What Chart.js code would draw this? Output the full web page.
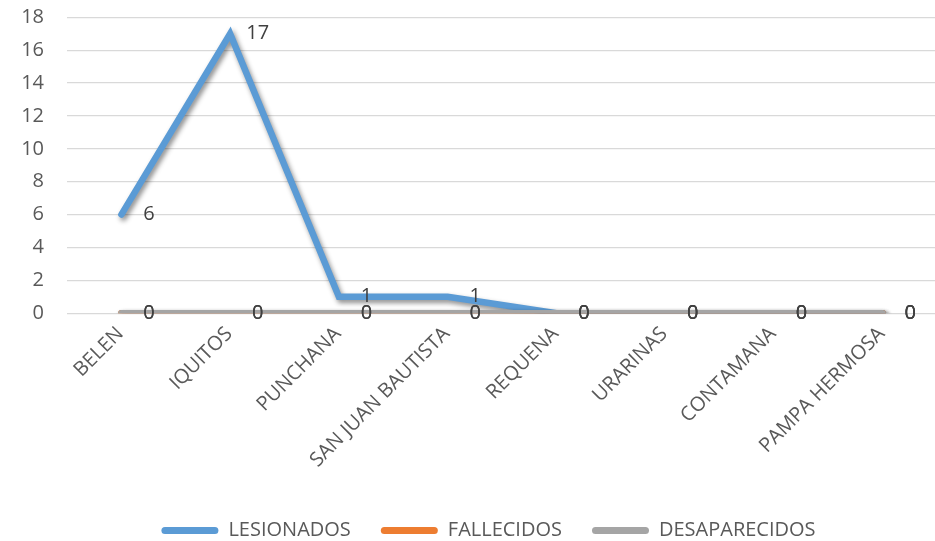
<!DOCTYPE html>
<html>
<head>
<meta charset="utf-8">
<script src="https://cdn.jsdelivr.net/npm/chart.js@4.4.0/dist/chart.umd.min.js"></script>
<style>
    html, body { margin: 0; padding: 0; background: #fff; overflow: hidden; }
    #wrap { width: 960px; height: 541px; position: relative; }
</style>
</head>
<body>
<div id="wrap"><canvas id="chart"></canvas></div>
<script>
'use strict';

// Chart data
const categories = ['BELEN', 'IQUITOS', 'PUNCHANA', 'SAN JUAN BAUTISTA', 'REQUENA', 'URARINAS', 'CONTAMANA', 'PAMPA HERMOSA'];
const lesionados = [6, 17, 1, 1, 0, 0, 0, 0];
const fallecidos = [0, 0, 0, 0, 0, 0, 0, 0];
const desaparecidos = [0, 0, 0, 0, 0, 0, 0, 0];
const yMin = 0;
const yMax = 18;
const yStep = 2;

const FONT = "'Open Sans', sans-serif";
const FONT_SIZE = 20;

/**
 * Soft shadow under each line, like the office chart
 */
const shadowPlugin = {
    id: 'lineShadow',
    beforeDatasetDraw: function(chart) {
        const ctx = chart.ctx;
        ctx.save();
        ctx.shadowColor = 'rgba(0, 0, 0, 0.45)';
        ctx.shadowBlur = 5;
        ctx.shadowOffsetX = 2;
        ctx.shadowOffsetY = 3;
    },
    afterDatasetDraw: function(chart) {
        chart.ctx.restore();
    }
};

/**
 * Value labels to the right of each point
 */
const valueLabels = {
    id: 'valueLabels',
    afterDatasetsDraw: function(chart) {
        const ctx = chart.ctx;
        ctx.save();
        ctx.font = FONT_SIZE + 'px ' + FONT;
        ctx.fillStyle = '#404040';
        ctx.textAlign = 'center';
        ctx.textBaseline = 'middle';
        chart.data.datasets.forEach(function(dataset, i) {
            const meta = chart.getDatasetMeta(i);
            meta.data.forEach(function(point, j) {
                ctx.fillText(String(dataset.data[j]), point.x + 27.5, point.y);
            });
        });
        ctx.restore();
    }
};

/**
 * Nudge the legend so it is centred like the original
 */
const legendShift = {
    id: 'legendShift',
    afterLayout: function(chart) {
        if (chart.legend) {
            chart.legend.left += 10;
            chart.legend.right += 10;
        }
    }
};

function makeSeries(label, data, color, order) {
    return {
        label: label,
        data: data,
        borderColor: color,
        backgroundColor: color,
        borderWidth: 6.5,
        borderCapStyle: 'round',
        borderJoinStyle: 'miter',
        pointRadius: 0,
        pointHoverRadius: 0,
        tension: 0,
        fill: false,
        order: order
    };
}

new Chart(document.getElementById('chart'), {
    type: 'line',
    data: {
        labels: categories,
        datasets: [
            makeSeries('LESIONADOS', lesionados, '#5B9BD5', 2),
            makeSeries('FALLECIDOS', fallecidos, '#ED7D31', 1),
            makeSeries('DESAPARECIDOS', desaparecidos, '#A5A5A5', 0)
        ]
    },
    options: {
        responsive: true,
        maintainAspectRatio: false,
        animation: false,
        layout: {
            padding: { left: 20, right: 23, top: 17.3, bottom: -9.5 }
        },
        plugins: {
            legend: {
                position: 'bottom',
                labels: {
                    boxWidth: 57,
                    boxHeight: 7,
                    padding: 30,
                    color: '#595959',
                    font: { family: FONT, size: FONT_SIZE },
                    useBorderRadius: true,
                    borderRadius: 3.5,
                    sort: function(a, b) { return a.datasetIndex - b.datasetIndex; },
                    generateLabels: function(chart) {
                        const items = Chart.defaults.plugins.legend.labels.generateLabels(chart);
                        items.forEach(function(item) {
                            item.fillStyle = item.strokeStyle;
                            item.lineWidth = 0;
                        });
                        return items;
                    }
                }
            },
            tooltip: { enabled: false }
        },
        scales: {
            x: {
                offset: true,
                grid: { display: false },
                border: { display: false },
                ticks: {
                    color: '#595959',
                    font: { family: FONT, size: FONT_SIZE },
                    autoSkip: false,
                    minRotation: 45,
                    maxRotation: 45,
                    padding: 1,
                    labelOffset: -1
                },
                afterFit: function(scale) {
                    scale.height = 177.3;
                    scale.paddingLeft = 0;
                    scale.paddingRight = 0;
                }
            },
            y: {
                min: yMin,
                max: yMax,
                grid: {
                    color: '#D9D9D9',
                    lineWidth: 1.3,
                    drawTicks: false
                },
                border: { display: false },
                ticks: {
                    stepSize: yStep,
                    autoSkip: false,
                    color: '#595959',
                    font: { family: FONT, size: FONT_SIZE },
                    padding: 23
                },
                afterFit: function(scale) {
                    scale.width = 47;
                    scale.paddingTop = 0;
                    scale.paddingBottom = 0;
                }
            }
        }
    },
    plugins: [shadowPlugin, valueLabels, legendShift]
});
</script>
</body>
</html>
